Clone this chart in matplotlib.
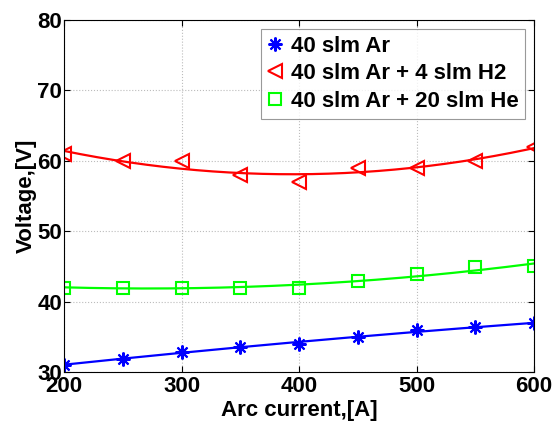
import numpy as np
import matplotlib
matplotlib.use('Agg')
import matplotlib.pyplot as plt

plt.rcParams['font.family'] = ['Liberation Sans', 'DejaVu Sans']
plt.rcParams['font.weight'] = 'bold'

current = [200, 250, 300, 350, 400, 450, 500, 550, 600]
v_ar = [31.0, 31.9, 32.9, 33.5, 34.0, 35.0, 35.9, 36.4, 36.9]
v_ar_h2 = [61, 60, 60, 58, 57, 59, 59, 60, 62]
v_ar_he = [42, 42, 42, 42, 41.9, 42.9, 43.9, 44.9, 45]

labels = ['40 slm Ar', '40 slm Ar + 4 slm H2', '40 slm Ar + 20 slm He']
colors = ['#0000ff', '#ff0000', '#00ff00']
markers = [(8, 2, 0), '<', 's']
msizes = [10, 10, 8]

fig = plt.figure(figsize=(5.54, 4.21), dpi=100)
ax = fig.add_axes([0.1155, 0.1164, 0.8485, 0.8361])

xs = np.linspace(200, 600, 200)
for v, lab, c, m, ms in zip([v_ar, v_ar_h2, v_ar_he], labels, colors, markers, msizes):
    # quadratic fit through the measured points
    p = np.polyfit(current, v, 2)
    ax.plot(xs, np.polyval(p, xs), color=c, lw=1.6)
    ax.plot(current, v, linestyle='none', marker=m, ms=ms, mfc='none',
            mec=c, mew=1.5, label=lab)

ax.set_xlim(200, 600)
ax.set_ylim(30, 80)
ax.set_xticks([200, 300, 400, 500, 600])
ax.set_yticks([30, 40, 50, 60, 70, 80])
ax.grid(True, linestyle=':', color='#bcbcbc', lw=0.8)
ax.tick_params(direction='in', labelsize=16, length=4, top=True, right=True)
ax.tick_params(axis='x', pad=3)
ax.tick_params(axis='y', pad=1.5)
for s in ax.spines.values():
    s.set_linewidth(0.8)

ax.set_xlabel('Arc current,[A]', fontsize=16, fontweight='bold', labelpad=2)
ax.set_ylabel('Voltage,[V]', fontsize=16, fontweight='bold', labelpad=0)

leg = ax.legend(loc='upper right', fontsize=16, frameon=True, fancybox=False,
                edgecolor='#808080', handlelength=0.7, handletextpad=0.35,
                borderpad=0.3, labelspacing=0.3, borderaxespad=0.4)
leg.get_frame().set_linewidth(0.8)

fig.savefig('out.png', dpi=100)
